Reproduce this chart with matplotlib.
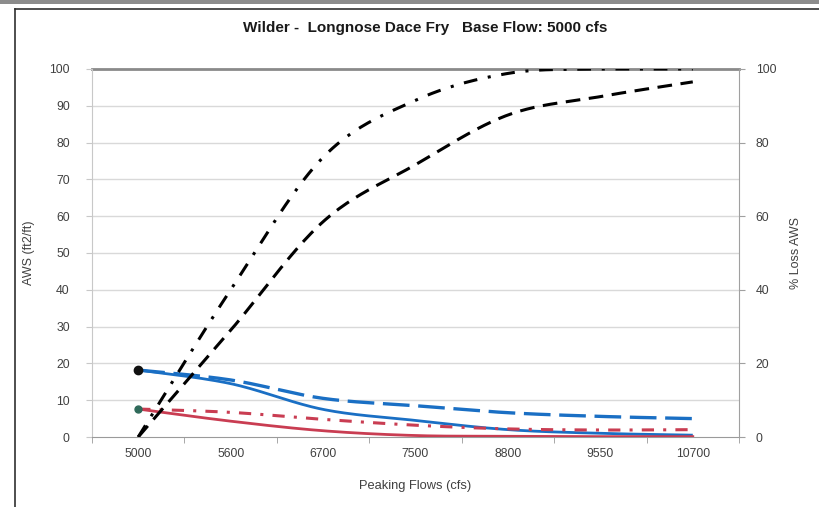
import numpy as np
import matplotlib
matplotlib.use("Agg")
import matplotlib.pyplot as plt
from matplotlib.patches import Rectangle
from matplotlib.lines import Line2D

plt.rcParams['font.family'] = ['Liberation Sans', 'DejaVu Sans']

categories = ["5000", "5600", "6700", "7500", "8800", "9550", "10700"]
aws_blue_solid = [18.2, 14.5, 7.5, 4.5, 2.0, 1.0, 0.5]
aws_blue_dashed = [18.2, 15.5, 10.5, 8.5, 6.6, 5.6, 5.0]
aws_red_solid = [7.6, 4.3, 1.7, 0.4, 0.2, 0.1, 0.1]
aws_red_dashdot = [7.6, 6.7, 4.8, 3.2, 2.2, 1.9, 2.0]
loss_black_dashed = [0, 29, 58.5, 74, 87.5, 92.5, 96.5]
loss_black_dashdot = [0, 40, 76, 91.5, 98.8, 100, 100]
left_ticks = list(range(0, 101, 10))
right_ticks = list(range(0, 101, 20))


def smooth(y, n=40):
    """Excel-like smoothed line (Catmull-Rom Bezier) through the data points."""
    x = np.arange(len(y), dtype=float)
    y = np.asarray(y, dtype=float)
    P = np.column_stack([x, y])
    out = []
    for i in range(len(P) - 1):
        p0 = P[i - 1] if i > 0 else P[i]
        p1 = P[i]
        p2 = P[i + 1]
        p3 = P[i + 2] if i + 2 < len(P) else P[i + 1]
        c1 = p1 + (p2 - p0) / 6.0
        c2 = p2 - (p3 - p1) / 6.0
        t = np.linspace(0, 1, n)[:, None]
        seg = ((1 - t) ** 3) * p1 + 3 * ((1 - t) ** 2) * t * c1 + 3 * (1 - t) * t ** 2 * c2 + t ** 3 * p2
        out.append(seg if i == 0 else seg[1:])
    s = np.vstack(out)
    return s[:, 0], s[:, 1]


W, H = 820, 507
fig = plt.figure(figsize=(W / 100, H / 100), dpi=100)

# screenshot frame
fig.patches.append(Rectangle((0, 1 - 4 / H), 1, 4 / H, transform=fig.transFigure,
                             facecolor='#8c8c8c', edgecolor='none'))
fig.lines.append(Line2D([15 / W, 1], [1 - 9 / H, 1 - 9 / H], transform=fig.transFigure,
                        color='#303030', lw=1.2))
fig.lines.append(Line2D([15 / W, 15 / W], [1 - 9 / H, 0], transform=fig.transFigure,
                        color='#303030', lw=1.2))

L, R, T, B = 92, 739, 69, 437
ax = fig.add_axes([L / W, 1 - B / H, (R - L) / W, (B - T) / H])
ax2 = ax.twinx()

xs = np.arange(len(categories))
ax.set_xlim(-0.5, len(categories) - 0.5)
ax.set_ylim(0, 100)
ax2.set_ylim(0, 100)

# gridlines
for v in left_ticks[1:-1]:
    ax.axhline(v, color='#d9d9d9', lw=1.0, zorder=0)
ax.axhline(100, color='#8a8a8a', lw=2.0, zorder=1, clip_on=False)

blue = '#1a6fc4'
red = '#c93d52'

x, y = smooth(aws_blue_solid)
ax.plot(x, y, color=blue, lw=2.0, solid_capstyle='butt', zorder=3)
x, y = smooth(aws_blue_dashed)
ax.plot(x, y, color=blue, lw=2.4, dashes=(8, 2.6), zorder=3)
x, y = smooth(aws_red_solid)
ax.plot(x, y, color=red, lw=2.0, zorder=3)
x, y = smooth(aws_red_dashdot)
ax.plot(x, y, color=red, lw=2.2, dashes=(4, 3, 1, 3), zorder=3)

ax.plot([xs[0]], [aws_blue_solid[0]], 'o', color='#111111', ms=6, zorder=5)
ax.plot([xs[0]], [aws_red_solid[0]], 'o', color='#2f6a5a', ms=5, zorder=5)

x, y = smooth(loss_black_dashed)
ax2.plot(x, np.clip(y, 0, 100), color='black', lw=2.2, dashes=(4.8, 2.8), zorder=3)
x, y = smooth(loss_black_dashdot)
ax2.plot(x, np.clip(y, 0, 100), color='black', lw=2.2, dashes=(4.5, 3.5, 1, 3.5), zorder=3)

# axes styling
for a in (ax, ax2):
    for s in a.spines.values():
        s.set_visible(False)
ax.spines['left'].set_visible(True)
ax.spines['left'].set_color('#c8c8c8')
ax.spines['bottom'].set_visible(True)
ax.spines['bottom'].set_color('#9a9a9a')
ax2.spines['right'].set_visible(True)
ax2.spines['right'].set_color('#a0a0a0')

ax.set_yticks(left_ticks)
ax.set_yticklabels([str(v) for v in left_ticks])
ax2.set_yticks(right_ticks)
ax2.set_yticklabels([str(v) for v in right_ticks])
ax.set_xticks(xs)
ax.set_xticklabels(categories)
ax.set_xticks(np.arange(len(categories) + 1) - 0.5, minor=True)
ax.tick_params(axis='x', which='major', length=0, pad=8, labelsize=8.8, labelcolor='#404040')
ax.tick_params(axis='x', which='minor', length=4, color='#9a9a9a', direction='out')
ax.tick_params(axis='y', length=4, color='#c8c8c8', labelsize=8.8, labelcolor='#404040', pad=12)
ax2.tick_params(axis='y', length=4, color='#a0a0a0', labelsize=8.8, labelcolor='#404040', pad=8)

ax.set_ylabel('AWS (ft2/ft)', fontsize=9, color='#404040', labelpad=10)
ax2.set_ylabel('% Loss AWS', fontsize=9, color='#404040', labelpad=10, rotation=90)
ax.set_xlabel('Peaking Flows (cfs)', fontsize=9.3, color='#404040', labelpad=14)

fig.text(425 / W, 1 - 28 / H, 'Wilder -  Longnose Dace Fry   Base Flow: 5000 cfs',
         ha='center', va='center', fontsize=11, fontweight='bold', color='#1a1a1a')

fig.savefig('out.png', dpi=100)
